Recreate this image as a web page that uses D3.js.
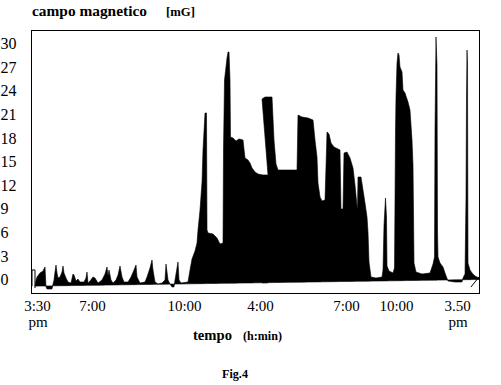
<!DOCTYPE html>
<html>
<head>
<meta charset="utf-8">
<script src="https://cdn.jsdelivr.net/npm/d3@7/dist/d3.min.js"></script>
<style>
  html, body { margin: 0; padding: 0; background: #fff; }
  svg { display: block; }
</style>
</head>
<body>
<svg id="chart" width="501" height="385"></svg>
<script>
// ---- data (sample index along the recording, field in mG) ----
const samples = [
  3,4,5,8,11,13,14,15,20,21,22,23,24,25,26,28,30,31,32,34,36,39,41,42,44,46,48,52,54,55,56,58,61,63,66,70,
  73,75,76,77,79,81,84,86,88,90,92,96,99,102,104,105,108,113,115,118,120,121,123,126,130,133,134,136,138,140,
  142,143,145,146,147,149,156,158,160,163,165,166,168,170,171,173,174.5,175,176,181,185,188,191,191.5,192.5,
  195,196,197,198,198.5,201,204,207,211,213,216,218,220,223,226,231,236,230,233,240,242,244,246,256,265,266,
  270,276,281,283,285,286,288,290,293,294.5,295,297,299,302,308,309,311,312,315,318,321,323,325,325.5,326,
  329,331,333,335,336,337,339,344,350,351,352,353.5,354.5,355,357,361,362.5,363,363.5,364,365,366,367,368,
  370,371,373,376,378,380,381,381.5,382,384,390,398,401,402.5,403,404,405,405.5,406,408,411,413,416,423,430,
  431,433,434,434.5,435,435.5,436,438,440,443,447
];
const fieldValues = [
  -0.83,-0.06,0.32,0.83,1.08,1.59,-0.95,-1.21,-1.21,-0.57,-0.06,0.95,1.84,0.83,0.19,0.32,0.95,1.72,0.83,0.19,-0.32,-0.45,0.70,0.57,-0.19,0.06,-0.32,-0.32,0.19,0.95,-0.45,-0.19,0.32,0.19,-0.45,-0.06,
  0.70,1.59,0.45,1.21,-0.06,-0.45,-0.06,0.57,1.72,0.32,-0.32,-0.32,0.32,1.21,1.84,0.32,-0.45,-0.32,0.32,1.46,2.48,1.21,-0.32,-0.57,-0.45,-0.06,1.97,-0.06,-0.57,-0.95,
  -0.95,-0.06,1.46,2.23,-0.06,-0.45,-0.32,1.21,2.61,3.63,4.64,6.30,8.84,12.40,16.48,21.18,21.18,6.30,5.92,5.79,5.28,4.52,4.64,16.48,25.38,
  28.18,28.94,28.94,25.38,18.13,18.00,17.62,17.88,17.75,15.46,15.20,14.82,14.19,13.68,13.42,13.30,13.30,22.96,23.22,23.22,17.75,14.69,13.93,13.93,13.93,20.93,
  20.67,20.55,20.29,17.75,15.59,12.28,10.50,9.99,10.11,16.48,18.77,18.51,17.37,16.86,16.48,8.97,8.97,16.09,16.22,15.46,14.19,12.02,9.35,8.84,13.04,
  13.04,11.39,9.73,7.95,6.04,2.23,0.32,0.19,0.32,1.21,6.93,10.37,7.95,1.72,1.08,0.83,1.46,10.11,19.02,23.22,27.54,28.82,28.56,27.03,
  26.40,24.11,23.73,22.58,21.56,17.75,14.57,8.46,2.10,0.95,0.70,0.83,1.97,2.86,19.02,30.85,27.29,6.30,2.86,2.10,1.59,0.83,-0.19,-0.32,-0.32,
  0.19,0.70,10.50,23.22,29.20,27.54,2.10,1.21,0.83,0.45,0.19
];
// zero-line drift of the recorder (sample index, mG)
const baselineSamples = [0, 447];
const baselineValues = [-0.85, 0];
// small pen marks at start and end of the trace
const headSamples = [0, 0, 3, 3];
const headValues = [-0.85, 1.21, 1.21, -1.08];
const tailSamples = [439, 447];
const tailValues = [-0.95, 0.32];

const yTicks = [0, 3, 6, 9, 12, 15, 18, 21, 24, 27, 30];
const xTickPos = [5, 60, 152, 228, 314, 364, 425];
const xTickLabels = ["3:30", "7:00", "10:00", "4:00", "7:00", "10:00", "3.50"];
const xTickSub = ["pm", "", "", "", "", "", "pm"];

// ---- drawing ----
const SERIF = '"Liberation Serif", "Times New Roman", serif';
const svg = d3.select("#chart");
const x = d3.scaleLinear().domain([0, 447]).range([32, 479]);
const y = d3.scaleLinear().domain([0, 30]).range([279.5, 43.7]);
const base = d3.scaleLinear().domain(baselineSamples).range(baselineValues);

const trace = samples.map((s, i) => ({ s, v: fieldValues[i] }));

const area = d3.area()
  .x(d => x(d.s))
  .y0(d => y(base(d.s)))
  .y1(d => y(d.v));

svg.append("path")
  .datum(trace)
  .attr("d", area)
  .attr("fill", "#000")
  .attr("stroke", "#000")
  .attr("stroke-width", 0.6)
  .attr("stroke-linejoin", "miter");

const line = d3.line().x(d => x(d.s)).y(d => y(d.v));
svg.append("path")
  .datum(headSamples.map((s, i) => ({ s, v: headValues[i] })))
  .attr("d", line).attr("fill", "none").attr("stroke", "#000").attr("stroke-width", 1);
svg.append("path")
  .datum(tailSamples.map((s, i) => ({ s, v: tailValues[i] })))
  .attr("d", line).attr("fill", "none").attr("stroke", "#000").attr("stroke-width", 1);

// frame
svg.append("rect")
  .attr("x", 31.5).attr("y", 30.5)
  .attr("width", 448).attr("height", 263)
  .attr("fill", "none").attr("stroke", "#000").attr("stroke-width", 1);

// y axis labels
const yAxis = svg.append("g")
  .call(d3.axisLeft(y).tickValues(yTicks).tickSize(0).tickFormat(d3.format("d")));
yAxis.select(".domain").remove();
yAxis.selectAll("text")
  .attr("x", 0.5)
  .attr("text-anchor", "start")
  .style("font-family", SERIF)
  .style("font-size", "16px")
  .attr("fill", "#000");

// x axis labels
const xAxis = svg.append("g").attr("transform", "translate(0,310.5)")
  .call(d3.axisBottom(x).tickValues(xTickPos).tickSize(0)
    .tickFormat((d, i) => xTickLabels[i]));
xAxis.select(".domain").remove();
xAxis.selectAll(".tick text")
  .attr("y", 0).attr("dy", null)
  .style("font-family", SERIF)
  .style("font-size", "15px")
  .attr("fill", "#000");
// second line ("pm") under the first and last tick labels
xAxis.selectAll(".tick").filter((d, i) => xTickSub[i] !== "")
  .append("text")
  .attr("x", 0.5).attr("y", 16.5).attr("text-anchor", "middle")
  .style("font-family", SERIF)
  .style("font-size", "15px")
  .attr("fill", "#000")
  .text(d => xTickSub[xTickPos.indexOf(d)]);

// titles: stretched horizontally to the reference widths
function label(txt, px, py, size, len) {
  const g = svg.append("g").attr("transform", `translate(${px},${py})`);
  const t = g.append("text").attr("x", 0).attr("y", 0)
    .style("font-family", SERIF).style("font-weight", "bold")
    .style("font-size", size + "px").attr("fill", "#000").text(txt);
  const w = t.node().getComputedTextLength();
  if (len && w > 0) t.attr("transform", `scale(${len / w},1)`);
}
label("campo magnetico", 32, 16, 15, 115);
label("[mG]", 166, 16, 13, 29);
label("tempo", 193, 340, 15, 39);
label("(h:min)", 243, 340, 12.5, 39);
label("Fig.4", 222, 378, 12, 26);
</script>
</body>
</html>
